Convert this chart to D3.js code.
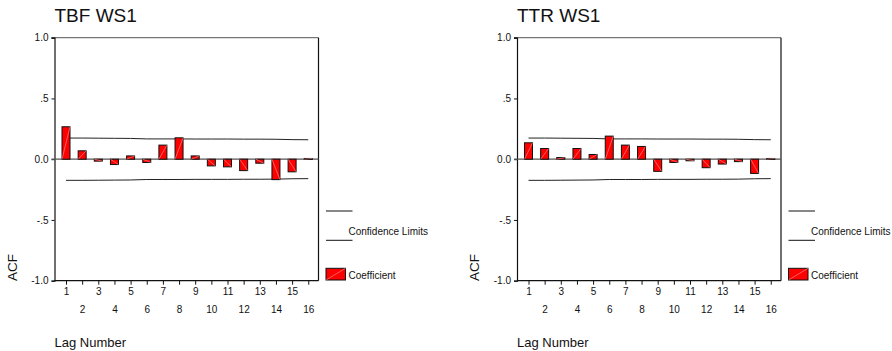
<!DOCTYPE html>
<html>
<head>
<meta charset="utf-8">
<script src="https://cdn.jsdelivr.net/npm/d3@7"></script>
<style>
  body { margin: 0; background: #fff; }
  svg { display: block; }
  text { font-family: "Liberation Sans", Arial, sans-serif; fill: #111; }
</style>
</head>
<body>
<script>
const lags = [1, 2, 3, 4, 5, 6, 7, 8, 9, 10, 11, 12, 13, 14, 15, 16];
const tbfAcf = [0.267, 0.069, -0.016, -0.044, 0.027, -0.027, 0.116, 0.176, 0.027, -0.055, -0.063, -0.094, -0.033, -0.168, -0.104, 0.006];
const ttrAcf = [0.135, 0.088, 0.014, 0.088, 0.039, 0.190, 0.116, 0.105, -0.100, -0.027, -0.013, -0.070, -0.040, -0.020, -0.117, 0.006];
const confUpper = [0.174, 0.174, 0.173, 0.172, 0.171, 0.167, 0.167, 0.167, 0.166, 0.166, 0.166, 0.165, 0.165, 0.164, 0.161, 0.160];
const yTicks = [-1, -0.5, 0, 0.5, 1];
const yTickLabels = ["-1.0", "-.5", "0.0", ".5", "1.0"];
const titles = ["TBF WS1", "TTR WS1"];

const width = 892, height = 351;
const svg = d3.select("body").append("svg")
  .attr("width", width).attr("height", height)
  .attr("viewBox", [0, 0, width, height]);

function panel(offset, title, values) {
  const left = 54.5 + offset, right = left + 264;
  const top = 37.7, bottom = 280.7;
  const g = svg.append("g");

  const x = d3.scaleLinear().domain([1, 16]).range([left + 11.5, left + 11.5 + 15 * 16.15]);
  const y = d3.scaleLinear().domain([-1, 1]).range([bottom, top]);

  g.append("text").attr("x", left).attr("y", 22)
    .attr("font-size", 19).text(title);

  // box: grey top, black sides + bottom
  g.append("line").attr("x1", left - 3).attr("x2", right).attr("y1", top).attr("y2", top)
    .attr("stroke", "#777").attr("stroke-width", 1.2);
  g.append("line").attr("x1", right).attr("x2", right).attr("y1", top).attr("y2", bottom)
    .attr("stroke", "#111").attr("stroke-width", 1.2);

  // y axis
  const ya = g.append("g").attr("transform", `translate(${left},0)`)
    .call(d3.axisLeft(y).tickValues(yTicks).tickSize(3).tickPadding(3)
      .tickFormat((d, i) => yTickLabels[i]));
  ya.select(".domain").attr("stroke", "#111").attr("stroke-width", 1.2);
  ya.selectAll(".tick line").attr("stroke", "#111");
  ya.selectAll(".tick text").attr("font-size", 10).attr("fill", "#222")
    .attr("font-family", "Liberation Sans, Arial, sans-serif");

  // zero line
  g.append("line").attr("x1", left - 3).attr("x2", right).attr("y1", y(0)).attr("y2", y(0))
    .attr("stroke", "#555").attr("stroke-width", 1.2);

  // x axis
  g.append("line").attr("x1", left).attr("x2", right).attr("y1", bottom).attr("y2", bottom)
    .attr("stroke", "#111").attr("stroke-width", 1.2);
  const xa = g.append("g").attr("transform", `translate(0,${bottom})`)
    .call(d3.axisBottom(x).tickValues(lags).tickSize(4).tickSizeOuter(0));
  xa.select(".domain").remove();
  xa.selectAll(".tick line").attr("stroke", "#111");
  xa.selectAll(".tick text").attr("font-size", 10).attr("fill", "#222")
    .attr("font-family", "Liberation Sans, Arial, sans-serif")
    .attr("dy", null)
    .attr("y", d => d % 2 ? 14 : 32);

  // confidence limits
  const line = d3.line().x((d, i) => x(lags[i])).y(d => y(d));
  g.append("path").attr("d", line(confUpper)).attr("fill", "none").attr("stroke", "#222").attr("stroke-width", 1);
  g.append("path").attr("d", line(confUpper.map(v => -v))).attr("fill", "none").attr("stroke", "#222").attr("stroke-width", 1);

  // bars
  const bw = 8;
  const bars = g.append("g").selectAll("g").data(values).join("g");
  bars.append("rect")
    .attr("x", (d, i) => x(lags[i]) - bw / 2)
    .attr("y", d => y(Math.max(0, d)))
    .attr("width", bw)
    .attr("height", d => Math.max(1, Math.abs(y(d) - y(0))))
    .attr("fill", "#ff0000").attr("stroke", "#111").attr("stroke-width", 1);
  bars.append("line")
    .attr("x1", (d, i) => x(lags[i]) - bw / 2).attr("y1", y(0))
    .attr("x2", (d, i) => x(lags[i]) + bw / 2).attr("y2", d => y(d))
    .attr("stroke", "#ff9a9a").attr("stroke-width", 0.6);

  // axis titles
  g.append("text").attr("x", left).attr("y", 347).attr("font-size", 13).text("Lag Number");
  g.append("text").attr("transform", `translate(${16.7 + offset},267.5) rotate(-90)`)
    .attr("text-anchor", "middle").attr("font-size", 13.5).text("ACF");

  // legend
  const lx = right + 7.5;
  g.append("line").attr("x1", lx).attr("x2", lx + 26.5).attr("y1", 211).attr("y2", 211).attr("stroke", "#111");
  g.append("line").attr("x1", lx).attr("x2", lx + 26.5).attr("y1", 240.3).attr("y2", 240.3).attr("stroke", "#111");
  g.append("text").attr("x", right + 30).attr("y", 235).attr("font-size", 10).text("Confidence Limits");
  g.append("rect").attr("x", lx).attr("y", 268.3).attr("width", 19.5).attr("height", 11.7)
    .attr("fill", "#ff0000").attr("stroke", "#111").attr("stroke-width", 1);
  g.append("line").attr("x1", lx).attr("y1", 280).attr("x2", lx + 19.5).attr("y2", 268.3)
    .attr("stroke", "#ff9a9a").attr("stroke-width", 0.6);
  g.append("text").attr("x", right + 30).attr("y", 279).attr("font-size", 10).text("Coefficient");
}

panel(0, titles[0], tbfAcf);
panel(462.5, titles[1], ttrAcf);
</script>
</body>
</html>
